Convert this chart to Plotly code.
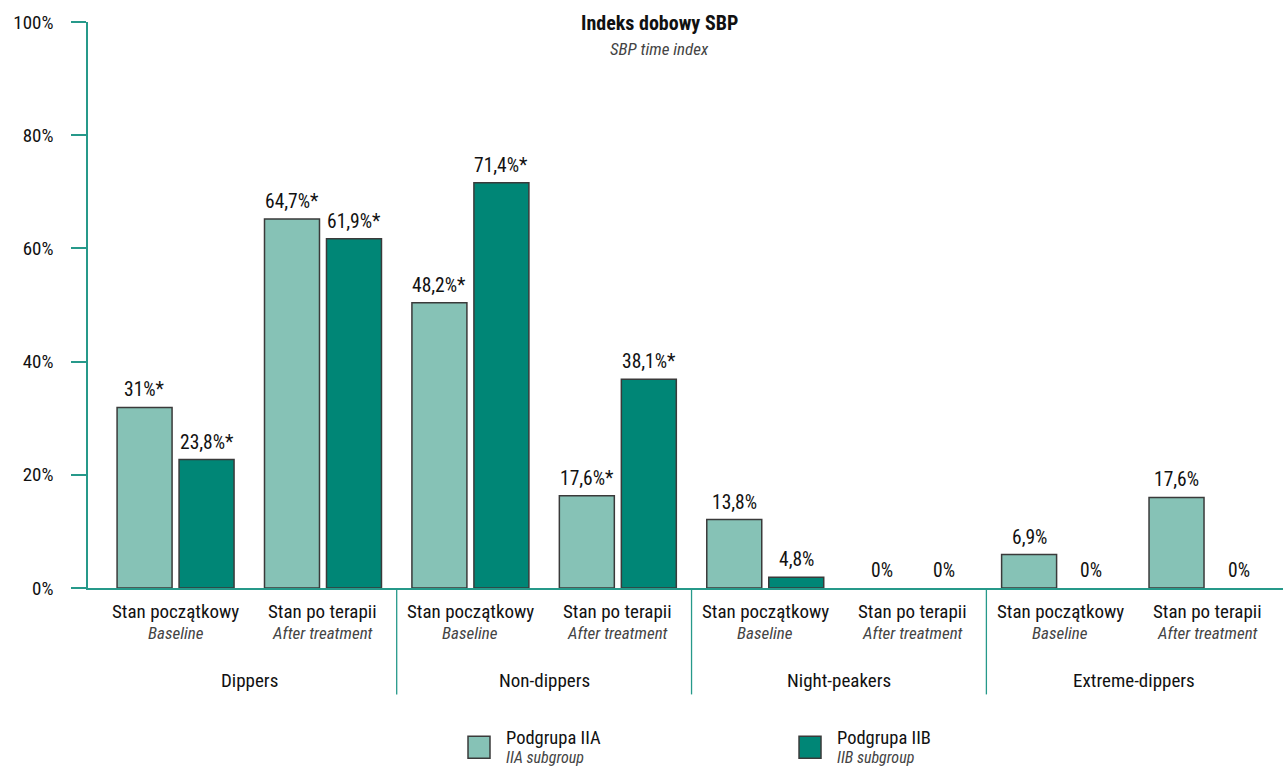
import plotly.graph_objects as go

groups = ["Dippers", "Non-dippers", "Night-peakers", "Extreme-dippers"]
sub_pl = ["Stan początkowy", "Stan po terapii"]
sub_en = ["Baseline", "After treatment"]

iia_values = [31.9, 65.2, 50.4, 16.3, 12.1, 0, 5.9, 16.0]
iib_values = [22.7, 61.7, 71.6, 36.9, 1.9, 0, 0, 0]
iia_labels = ["31%*", "64,7%*", "48,2%*", "17,6%*", "13,8%", "0%", "6,9%", "17,6%"]
iib_labels = ["23,8%*", "61,9%*", "71,4%*", "38,1%*", "4,8%", "0%", "0%", "0%"]
y_ticks = [0, 20, 40, 60, 80, 100]
y_ticktext = ["0%", "20%", "40%", "60%", "80%", "100%"]

title_pl = "Indeks dobowy SBP"
title_en = "SBP time index"
legend_pl = ["Podgrupa IIA", "Podgrupa IIB"]
legend_en = ["IIA subgroup", "IIB subgroup"]

FONT = "Liberation Sans Narrow, Roboto Condensed, DejaVu Sans Condensed, Arial Narrow, sans-serif"
C_LIGHT = "#86c2b6"
C_DARK = "#008676"
C_AXIS = "#26998a"
C_EDGE = "#3a3a3a"

x = list(range(len(iia_values)))
OFF = 0.2103

fig = go.Figure()
for vals, col in [(iia_values, C_LIGHT), (iib_values, C_DARK)]:
    fig.add_trace(go.Bar(
        x=x, y=vals,
        marker=dict(color=col,
                    line=dict(color=C_EDGE, width=[1.5 if v > 0 else 0 for v in vals])),
        showlegend=False, hoverinfo="skip"))

ann = []
for i in x:
    for vals, labs, off in [(iia_values, iia_labels, -OFF), (iib_values, iib_labels, OFF)]:
        ann.append(dict(x=i + off, y=vals[i], xref="x", yref="y", text=labs[i],
                        showarrow=False, yanchor="bottom", yshift=4,
                        font=dict(size=19.5, color="#111")))
    ann.append(dict(x=i, y=-0.0415, xref="x", yref="paper", text=sub_pl[i % 2],
                    showarrow=False, yanchor="middle", font=dict(size=19, color="#111")))
    ann.append(dict(x=i, y=-0.0803, xref="x", yref="paper", text="<i>" + sub_en[i % 2] + "</i>",
                    showarrow=False, yanchor="middle", font=dict(size=17, color="#444")))
for g, name in enumerate(groups):
    ann.append(dict(x=2 * g + 0.5, y=-0.1633, xref="x", yref="paper", text=name,
                    showarrow=False, yanchor="middle", font=dict(size=19, color="#111")))

ann.append(dict(x=0.478, y=0.998, xref="paper", yref="paper", text="<b>" + title_pl + "</b>",
                showarrow=False, yanchor="middle", font=dict(size=20, color="#111")))
ann.append(dict(x=0.478, y=0.952, xref="paper", yref="paper", text="<i>" + title_en + "</i>",
                showarrow=False, yanchor="middle", font=dict(size=17, color="#444")))

shapes = []
for g in range(1, len(groups)):
    shapes.append(dict(type="line", xref="x", yref="paper", x0=2 * g - 0.5, x1=2 * g - 0.5,
                       y0=0, y1=-0.188, line=dict(color=C_AXIS, width=1.3)))

leg_sq = [(0.318, C_LIGHT), (0.595, C_DARK)]
for k, (lx, col) in enumerate(leg_sq):
    shapes.append(dict(type="rect", xref="paper", yref="paper", x0=lx, x1=lx + 0.0184,
                       y0=-0.301, y1=-0.2621, fillcolor=col, line=dict(color=C_EDGE, width=1.5)))
    ann.append(dict(x=lx + 0.0301, y=-0.2657, xref="paper", yref="paper", text=legend_pl[k],
                    showarrow=False, xanchor="left", yanchor="middle",
                    font=dict(size=18.5, color="#111")))
    ann.append(dict(x=lx + 0.0301, y=-0.299, xref="paper", yref="paper",
                    text="<i>" + legend_en[k] + "</i>",
                    showarrow=False, xanchor="left", yanchor="middle",
                    font=dict(size=16, color="#444")))

fig.update_layout(
    width=1283, height=772,
    margin=dict(l=88, r=0, t=22, b=183.5, pad=0),
    paper_bgcolor="white", plot_bgcolor="white",
    font=dict(family=FONT, size=19, color="#111"),
    barmode="group", bargap=0.159, bargroupgap=0.113,
    annotations=ann, shapes=shapes,
    xaxis=dict(range=[-0.594, 7.512], showgrid=False, zeroline=False, showticklabels=False,
               showline=True, linecolor=C_AXIS, linewidth=1.5, ticks=""),
    yaxis=dict(range=[0, 100], tickvals=y_ticks, ticktext=y_ticktext, showgrid=False,
               zeroline=False, showline=True, linecolor=C_AXIS, linewidth=1.5,
               ticks="outside", ticklen=15, tickcolor=C_AXIS, tickwidth=1.5,
               ticklabelstandoff=14, tickfont=dict(size=19, color="#111")),
)

fig.write_html("out.html")
